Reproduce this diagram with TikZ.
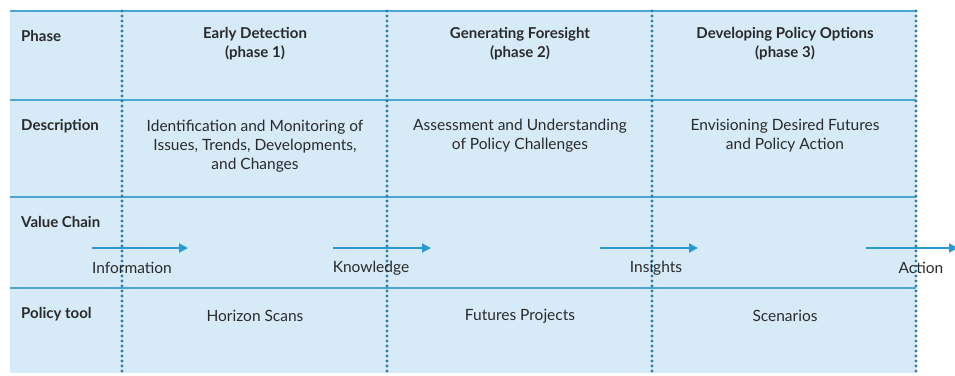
\documentclass[tikz,border=0pt]{standalone}
\usepackage{fontspec}
\setmainfont{Lato}
\usetikzlibrary{arrows.meta}
\definecolor{cellfill}{HTML}{D6EBF7}
\definecolor{rule}{HTML}{4BA6D6}
\definecolor{dots}{HTML}{2A7DAE}
\definecolor{arrowc}{HTML}{2A9BD2}
\definecolor{txt}{HTML}{2A2A2A}
\tikzset{
  hrule/.style={draw=rule, line width=1.3pt},
  vdots/.style={draw=dots, line width=3.2pt, line cap=round, dash pattern=on 0pt off 5pt},
  head/.style={font=\bfseries\fontsize{15}{18}\selectfont, text=txt, anchor=west, inner sep=0pt},
  cell/.style={font=\fontsize{15.5}{19}\selectfont, text=txt, align=center, inner sep=0pt},
  boldcell/.style={cell, font=\bfseries\fontsize{15}{19}\selectfont},
  chainlbl/.style={font=\fontsize{15.5}{19}\selectfont, text=txt, inner sep=0pt},
  vc/.style={draw=arrowc, line width=1.8pt, -{Triangle[length=9pt,width=9pt]}}
}
\begin{document}
\begin{tikzpicture}[x=1pt,y=-1pt]
\useasboundingbox (0,0) rectangle (955,375);
\fill[cellfill] (10,11) rectangle (916,373);
% horizontal rules
\coordinate (h0l) at (10,11);   \coordinate (h0r) at (916,11);
\coordinate (h1l) at (10,100);  \coordinate (h1r) at (916,100);
\coordinate (h2l) at (10,197);  \coordinate (h2r) at (916,197);
\coordinate (h3l) at (10,288);  \coordinate (h3r) at (916,288);
\draw[hrule] (h0l) -- (h0r);
\draw[hrule] (h1l) -- (h1r);
\draw[hrule] (h2l) -- (h2r);
\draw[hrule] (h3l) -- (h3r);
% vertical dotted lines
\coordinate (v1t) at (122,11);  \coordinate (v1b) at (122,375);
\coordinate (v2t) at (387,11);  \coordinate (v2b) at (387,375);
\coordinate (v3t) at (652,11);  \coordinate (v3b) at (652,375);
\coordinate (v4t) at (916,11);  \coordinate (v4b) at (916,375);
\draw[vdots] (v1t) -- (v1b);
\draw[vdots] (v2t) -- (v2b);
\draw[vdots] (v3t) -- (v3b);
\draw[vdots] (v4t) -- (v4b);
% row headers
\node[head] (phase) at (21,36) {Phase};
\node[head] (desc) at (21,126) {Description};
\node[head] (value) at (21,222) {Value Chain};
\node[head] (tool) at (21,314) {Policy tool};
% phase row
\node[boldcell] (p1) at (255,44) {Early Detection\\(phase 1)};
\node[boldcell] (p2) at (520,44) {Generating Foresight\\(phase 2)};
\node[boldcell] (p3) at (785,44) {Developing Policy Options\\(phase 3)};
% description row
\node[cell] (d1) at (255,146) {Identification and Monitoring of\\Issues, Trends, Developments,\\and Changes};
\node[cell] (d2) at (520,136) {Assessment and Understanding\\of Policy Challenges};
\node[cell] (d3) at (785,136) {Envisioning Desired Futures\\and Policy Action};
% value chain arrows
\coordinate (a1s) at (92,248);  \coordinate (a1e) at (188,248);
\coordinate (a2s) at (333,248); \coordinate (a2e) at (431,248);
\coordinate (a3s) at (600,248); \coordinate (a3e) at (698,248);
\coordinate (a4s) at (866,248); \coordinate (a4e) at (958,248);
\draw[vc] (a1s) -- (a1e);
\draw[vc] (a2s) -- (a2e);
\draw[vc] (a3s) -- (a3e);
\draw[vc] (a4s) -- (a4e);
\node[chainlbl] (l1) at (132,268) {Information};
\node[chainlbl] (l2) at (371,268) {Knowledge};
\node[chainlbl] (l3) at (656,268) {Insights};
\node[chainlbl] (l4) at (921,268) {Action};
% policy tool row
\node[cell] (t1) at (255,316) {Horizon Scans};
\node[cell] (t2) at (520,316) {Futures Projects};
\node[cell] (t3) at (785,316) {Scenarios};
\end{tikzpicture}
\end{document}
